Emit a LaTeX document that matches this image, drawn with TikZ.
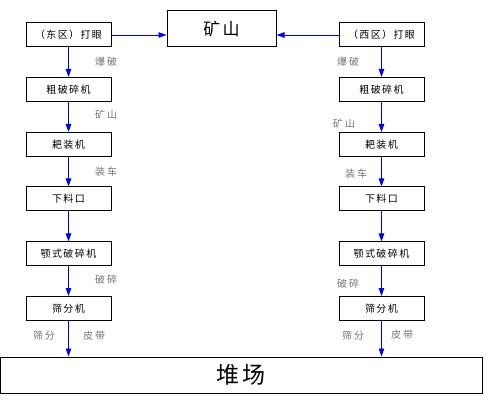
\documentclass[tikz,border=0pt]{standalone}
\usepackage{fontspec}
\usetikzlibrary{arrows.meta}
\newfontfamily\cjk[LetterSpace=14]{Noto Sans CJK SC}
\newfontfamily\cjknote[LetterSpace=20]{Noto Sans CJK SC}
\colorlet{pipe}{blue!90!black}
\colorlet{note}{black!55}
\tikzset{flow/box/.style={draw, line width=1pt, minimum width=85pt, minimum height=24pt, inner sep=0pt, font=\cjk\fontsize{10}{12}\selectfont}}
\tikzset{flow/arrow/.style={pipe, line width=0.9pt, -{Triangle[length=8pt,width=5.5pt]}}}
\tikzset{flow/note/.style={note, inner sep=0pt, font=\cjknote\fontsize{10}{12}\selectfont}}

\begin{document}
\begin{tikzpicture}[x=1pt,y=-1pt]
  \useasboundingbox (0,0) rectangle (504,417);
  % mine and yard
  \node[flow/box, minimum width=109pt, minimum height=36pt, font=\cjk\fontsize{17}{20}\selectfont] (ks) at (221.5,29) {矿山};
  \node[flow/box, minimum width=482pt, minimum height=36pt, font=\cjk\fontsize{23}{26}\selectfont] (dc) at (241,375) {堆场};
  % east side
  \node[flow/box] (dy1) at (68.5,35) {（东区）打眼};
  \node[flow/box] (cp1) at (68.5,89.5) {粗破碎机};
  \node[flow/box] (pz1) at (68.5,144.5) {耙装机};
  \node[flow/box] (xl1) at (68.5,199) {下料口};
  \node[flow/box] (ep1) at (68.5,254) {颚式破碎机};
  \node[flow/box] (sf1) at (68.5,308.5) {筛分机};
  % west side
  \node[flow/box] (dy2) at (381.5,35) {（西区）打眼};
  \node[flow/box] (cp2) at (381.5,89.5) {粗破碎机};
  \node[flow/box] (pz2) at (381.5,144.5) {耙装机};
  \node[flow/box] (xl2) at (381.5,199) {下料口};
  \node[flow/box] (ep2) at (381.5,254) {颚式破碎机};
  \node[flow/box] (sf2) at (381.5,308.5) {筛分机};

  \draw[flow/arrow] (dy1.east) -- (dy1.east -| ks.west);
  \draw[flow/arrow] (dy2.west) -- (dy2.west -| ks.east);
  \foreach \a/\b in {dy/cp, cp/pz, pz/xl, xl/ep, ep/sf}
    \foreach \s in {1,2} \draw[flow/arrow] (\a\s) -- (\b\s);
  \foreach \s in {1,2} \draw[flow/arrow] (sf\s) -- (sf\s |- dc.north);

  \node[flow/note] (n1) at (106,62) {爆破};
  \node[flow/note] (n2) at (106,115) {矿山};
  \node[flow/note] (n3) at (106,172) {装车};
  \node[flow/note] (n4) at (106,280) {破碎};
  \node[flow/note] (n5) at (44,336) {筛分};
  \node[flow/note] (n6) at (94,336) {皮带};
  \node[flow/note] (m1) at (348,62) {爆破};
  \node[flow/note] (m2) at (344,124) {矿山};
  \node[flow/note] (m3) at (356,174) {装车};
  \node[flow/note] (m4) at (348,284) {破碎};
  \node[flow/note] (m5) at (353,336) {筛分};
  \node[flow/note] (m6) at (402,335) {皮带};
\end{tikzpicture}
\end{document}
